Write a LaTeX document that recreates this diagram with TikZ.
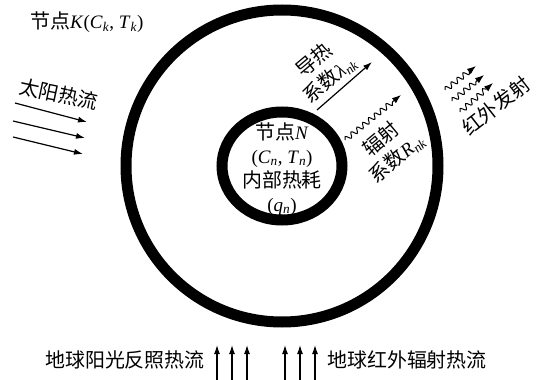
\documentclass[tikz,border=0pt]{standalone}
\usepackage{fontspec}
\setmainfont{Liberation Serif}
\newfontfamily\cjk[Scale=1.05]{Noto Sans CJK SC}
\usetikzlibrary{arrows.meta,decorations.pathmorphing,shapes.geometric}
\newcommand{\sbi}[1]{\textsubscript{\textit{#1}}}
\begin{document}
\begin{tikzpicture}[x=1pt,y=1pt,
  lbl/.style={font=\fontsize{19}{24}\selectfont, inner sep=0pt},
  arr/.style={line width=1.2pt,-{Latex[length=9pt,width=6pt]}},
  wav/.style={line width=1pt,-{Latex[length=9pt,width=6.5pt]},decorate,
     decoration={snake,amplitude=2.6pt,segment length=7.5pt,post length=8pt}},
  ring/.style={draw,line width=11pt,inner sep=0pt}]
\useasboundingbox (0,0) rectangle (539,-380);
% rings
\node[ring,circle,minimum size=312pt] (outer) at (282,-166) {};
\node[ring,ellipse,minimum width=120pt,minimum height=108pt] (inner) at (282,-166) {};
% inner text
\node[lbl,align=center] (nodeN) at (282,-169)
  {{\cjk 节点}\textit{N}\\(\textit{C}\sbi{n}, \textit{T}\sbi{n})\\{\cjk 内部热耗}\\(\textit{q}\sbi{n})};
% top-left label
\node[lbl,anchor=west] (nodeK) at (30,-22)
  {{\cjk 节点}\textit{K}(\textit{C}\sbi{k}, \textit{T}\sbi{k})};
% solar
\node[lbl,rotate=-12] (sun) at (59,-94) {\cjk 太阳热流};
\coordinate (s1a) at (15,-103); \coordinate (s1b) at (87,-122);
\coordinate (s2a) at (13,-121); \coordinate (s2b) at (85,-138);
\coordinate (s3a) at (13,-137); \coordinate (s3b) at (83,-154);
\draw[arr] (s1a) -- (s1b);
\draw[arr] (s2a) -- (s2b);
\draw[arr] (s3a) -- (s3b);
% conduction
\node[lbl,rotate=40,align=center] (cond) at (322,-70)
  {{\cjk 导热}\\{\cjk 系数}\textit{λ}\sbi{nk}};
\coordinate (c1) at (317,-110); \coordinate (c2) at (372,-62);
\draw[arr] (c1) -- (c2);
% radiation coefficient
\node[lbl,rotate=40,align=center] (rad) at (389,-149)
  {{\cjk 辐射}\\{\cjk 系数}\textit{R}\sbi{nk}};
\coordinate (r1) at (345,-140); \coordinate (r2) at (401,-95);
\draw[wav] (r1) -- (r2);
% infrared emission
\node[lbl,rotate=38] (ir) at (496,-106) {\cjk 红外发射};
\coordinate (i1a) at (445,-90); \coordinate (i1b) at (476,-66);
\coordinate (i2a) at (452,-101); \coordinate (i2b) at (484,-75);
\coordinate (i3a) at (460,-112); \coordinate (i3b) at (493,-83);
\draw[wav] (i1a) -- (i1b);
\draw[wav] (i2a) -- (i2b);
\draw[wav] (i3a) -- (i3b);
% bottom
\node[lbl,anchor=east] (alb) at (205,-360) {\cjk 地球阳光反照热流};
\node[lbl,anchor=west] (eir) at (327,-360) {\cjk 地球红外辐射热流};
\foreach \x/\n in {217/a,232/b,247/c,285/d,300/e,315/f}{
  \coordinate (b\n0) at (\x,-381);
  \coordinate (b\n1) at (\x,-345);
  \draw[arr] (b\n0) -- (b\n1);
}
\end{tikzpicture}
\end{document}
